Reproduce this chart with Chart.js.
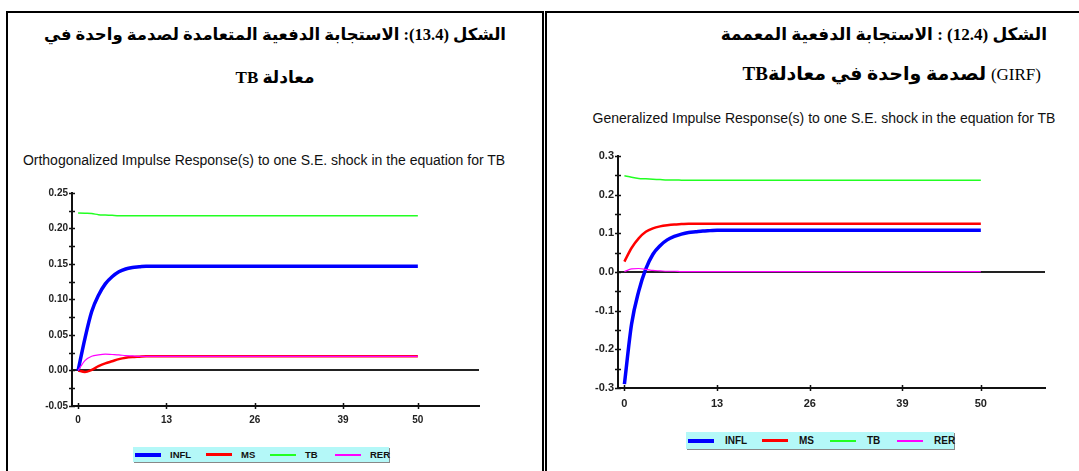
<!DOCTYPE html>
<html lang="ar">
<head>
<meta charset="utf-8">
<script src="https://cdn.jsdelivr.net/npm/chart.js@4.4.1/dist/chart.umd.min.js"></script>
<style>
body{margin:0;background:#fff;width:1079px;height:471px;overflow:hidden;position:relative;font-family:"Liberation Sans",Arial,sans-serif}
.cell{position:absolute;border:2px solid #000;box-sizing:border-box}
#cellL{left:6px;top:11px;width:538px;height:480px}
#cellR{left:545px;top:11px;width:560px;height:480px}
.ar{position:absolute;direction:rtl;font-family:"Liberation Serif","DejaVu Sans",serif;font-weight:bold;font-size:16.5px;white-space:nowrap;color:#000;line-height:20px}
.ttl{position:absolute;font-size:14px;color:#111;white-space:nowrap;text-align:center;line-height:16px}
.box{position:absolute}
.lg{position:absolute;background:#b4f8f8;box-shadow:1px 1px 0 #888;font-family:"Liberation Sans",Arial,sans-serif;font-weight:bold;font-size:9.5px;color:#111;box-sizing:border-box}
.lg .it{position:absolute;top:0;bottom:0;display:flex;align-items:center}
.lg .l{display:inline-block;width:26px}
.lg .t{position:absolute}
</style>
</head>
<body>
<div class="cell" id="cellL"></div>
<div class="cell" id="cellR"></div>

<div class="ar" style="left:8px;width:534px;top:25px;text-align:center">الشكل (13.4): الاستجابة الدفعية المتعامدة لصدمة واحدة في</div>
<div class="ar" style="left:8px;width:534px;top:68px;text-align:center;font-size:17px">معادلة TB</div>
<div class="ar" style="right:32px;top:25px;text-align:right;font-size:17px">الشكل (12.4) : الاستجابة الدفعية المعممة</div>
<div class="ar" style="right:38px;top:64px;text-align:right;font-size:19px"><span style="font-weight:normal;font-size:17px">(GIRF)</span> لصدمة واحدة في معادلةTB</div>

<div class="ttl" style="left:10px;width:508px;top:152px">Orthogonalized Impulse Response(s) to one S.E. shock in the equation for TB</div>
<div class="ttl" style="left:568px;width:512px;top:110px">Generalized Impulse Response(s) to one S.E. shock in the equation for TB</div>

<div class="box" style="left:20px;top:180px;width:480px;height:250px"><canvas id="cL"></canvas></div>
<div class="box" style="left:560px;top:140px;width:500px;height:280px"><canvas id="cR"></canvas></div>

<div class="lg" id="lgL" style="left:133px;top:447px;width:256px;height:15px"></div>
<div class="lg" id="lgR" style="left:686px;top:432px;width:268px;height:17px;font-size:10px"></div>

<script>
// horizons 0..50
var horizons = Array.from({length: 51}, function(_, i){ return i; });
var seriesNames = ['INFL', 'MS', 'TB', 'RER'];
var seriesColors = ['#0000ff', '#ff0000', '#22ff22', '#ff00ff'];
var lineWidths = [3.5, 2.5, 1.5, 1.2];
var xTickVals = [0, 13, 26, 39, 50];

// Orthogonalized (left)
var orthINFL = [0, 0.045, 0.083, 0.106, 0.122, 0.132, 0.139, 0.143, 0.145, 0.146,
  0.147, 0.147, 0.147, 0.147, 0.147, 0.147, 0.147, 0.147, 0.147, 0.147,
  0.147, 0.147, 0.147, 0.147, 0.147, 0.147, 0.147, 0.147, 0.147, 0.147,
  0.147, 0.147, 0.147, 0.147, 0.147, 0.147, 0.147, 0.147, 0.147, 0.147,
  0.147, 0.147, 0.147, 0.147, 0.147, 0.147, 0.147, 0.147, 0.147, 0.147, 0.147];
var orthMS = [0, -0.002, 0.001, 0.006, 0.010, 0.013, 0.016, 0.018, 0.019, 0.0195,
  0.020, 0.020, 0.020, 0.020, 0.020, 0.020, 0.020, 0.020, 0.020, 0.020,
  0.020, 0.020, 0.020, 0.020, 0.020, 0.020, 0.020, 0.020, 0.020, 0.020,
  0.020, 0.020, 0.020, 0.020, 0.020, 0.020, 0.020, 0.020, 0.020, 0.020,
  0.020, 0.020, 0.020, 0.020, 0.020, 0.020, 0.020, 0.020, 0.020, 0.020, 0.020];
var orthTB = [0.222, 0.2215, 0.221, 0.2195, 0.219, 0.2185, 0.218, 0.218, 0.218, 0.218,
  0.218, 0.218, 0.218, 0.218, 0.218, 0.218, 0.218, 0.218, 0.218, 0.218,
  0.218, 0.218, 0.218, 0.218, 0.218, 0.218, 0.218, 0.218, 0.218, 0.218,
  0.218, 0.218, 0.218, 0.218, 0.218, 0.218, 0.218, 0.218, 0.218, 0.218,
  0.218, 0.218, 0.218, 0.218, 0.218, 0.218, 0.218, 0.218, 0.218, 0.218, 0.218];
var orthRER = [0, 0.014, 0.020, 0.022, 0.023, 0.0225, 0.022, 0.021, 0.0205, 0.020,
  0.020, 0.020, 0.020, 0.020, 0.020, 0.020, 0.020, 0.020, 0.020, 0.020,
  0.020, 0.020, 0.020, 0.020, 0.020, 0.020, 0.020, 0.020, 0.020, 0.020,
  0.020, 0.020, 0.020, 0.020, 0.020, 0.020, 0.020, 0.020, 0.020, 0.020,
  0.020, 0.020, 0.020, 0.020, 0.020, 0.020, 0.020, 0.020, 0.020, 0.020, 0.020];
var orthYTicks = [-0.05, 0, 0.05, 0.10, 0.15, 0.20, 0.25];

// Generalized (right)
var genINFL = [-0.29, -0.135, -0.05, 0.008, 0.046, 0.068, 0.083, 0.092, 0.098, 0.102,
  0.104, 0.106, 0.107, 0.108, 0.108, 0.108, 0.108, 0.108, 0.108, 0.108,
  0.108, 0.108, 0.108, 0.108, 0.108, 0.108, 0.108, 0.108, 0.108, 0.108,
  0.108, 0.108, 0.108, 0.108, 0.108, 0.108, 0.108, 0.108, 0.108, 0.108,
  0.108, 0.108, 0.108, 0.108, 0.108, 0.108, 0.108, 0.108, 0.108, 0.108, 0.108];
var genMS = [0.027, 0.062, 0.087, 0.104, 0.113, 0.118, 0.121, 0.123, 0.124, 0.125,
  0.125, 0.125, 0.125, 0.125, 0.125, 0.125, 0.125, 0.125, 0.125, 0.125,
  0.125, 0.125, 0.125, 0.125, 0.125, 0.125, 0.125, 0.125, 0.125, 0.125,
  0.125, 0.125, 0.125, 0.125, 0.125, 0.125, 0.125, 0.125, 0.125, 0.125,
  0.125, 0.125, 0.125, 0.125, 0.125, 0.125, 0.125, 0.125, 0.125, 0.125, 0.125];
var genTB = [0.249, 0.245, 0.242, 0.241, 0.240, 0.239, 0.238, 0.238, 0.2375, 0.237,
  0.237, 0.237, 0.237, 0.237, 0.237, 0.237, 0.237, 0.237, 0.237, 0.237,
  0.237, 0.237, 0.237, 0.237, 0.237, 0.237, 0.237, 0.237, 0.237, 0.237,
  0.237, 0.237, 0.237, 0.237, 0.237, 0.237, 0.237, 0.237, 0.237, 0.237,
  0.237, 0.237, 0.237, 0.237, 0.237, 0.237, 0.237, 0.237, 0.237, 0.237, 0.237];
var genRER = [0.001, 0.008, 0.009, 0.007, 0.004, 0.003, 0.002, 0.002, 0.001, 0.001,
  0.001, 0.001, 0.001, 0.001, 0.001, 0.001, 0.001, 0.001, 0.001, 0.001,
  0.001, 0.001, 0.001, 0.001, 0.001, 0.001, 0.001, 0.001, 0.001, 0.001,
  0.001, 0.001, 0.001, 0.001, 0.001, 0.001, 0.001, 0.001, 0.001, 0.001,
  0.001, 0.001, 0.001, 0.001, 0.001, 0.001, 0.001, 0.001, 0.001, 0.001, 0.001];
var genYTicks = [-0.3, -0.2, -0.1, 0, 0.1, 0.2, 0.3];

var tickFont = '"Liberation Sans", Arial, sans-serif';

// little cross shaped tick marks on both axes
var crossTicks = {
  id: 'crossTicks',
  afterDatasetsDraw: function(chart) {
    var ctx = chart.ctx, xs = chart.scales.x, ys = chart.scales.y, a = chart.chartArea;
    var yt = chart.options.plugins.crossTicks.yTicks;
    ctx.save();
    ctx.strokeStyle = '#111';
    ctx.lineWidth = 1.5;
    ctx.beginPath();
    for (var i = 0; i < yt.length; i++) {
      var vals = [yt[i]];
      if (i < yt.length - 1) vals.push((yt[i] + yt[i + 1]) / 2);
      vals.forEach(function(v){
        var py = Math.round(ys.getPixelForValue(v)) + 0.5;
        ctx.moveTo(a.left - 3, py); ctx.lineTo(a.left + 3, py);
      });
    }
    xTickVals.forEach(function(v){
      var px = Math.round(xs.getPixelForValue(v)) + 0.5;
      ctx.moveTo(px, a.bottom - 3); ctx.lineTo(px, a.bottom + 3);
    });
    ctx.stroke();
    ctx.restore();
  }
};

function makeChart(id, series, yMin, yMax, yTicks, dec, pad, yW, xH, fs, xPad) {
  var datasets = series.map(function(s, k){
    return {
      label: seriesNames[k],
      data: s.map(function(v, i){ return {x: horizons[i], y: v}; }),
      borderColor: seriesColors[k],
      borderWidth: lineWidths[k],
      pointRadius: 0,
      cubicInterpolationMode: 'monotone',
      fill: false,
      order: [1, 2, 3, 0][k]
    };
  });
  return new Chart(document.getElementById(id), {
    type: 'line',
    data: {datasets: datasets},
    plugins: [crossTicks],
    options: {
      responsive: true,
      maintainAspectRatio: false,
      animation: false,
      layout: {padding: pad},
      plugins: {legend: {display: false}, tooltip: {enabled: false}, crossTicks: {yTicks: yTicks}},
      scales: {
        x: {
          type: 'linear', min: -0.9, max: 59,
          afterBuildTicks: function(sc){ sc.ticks = xTickVals.map(function(v){ return {value: v}; }); },
          afterFit: function(sc){ sc.height = xH; },
          grid: {display: false, drawTicks: false},
          border: {color: '#111', width: 2},
          ticks: {color: '#222', padding: xPad, maxRotation: 0, autoSkip: false,
            font: {family: tickFont, size: fs, weight: 'bold'},
            callback: function(v){ return String(v); }}
        },
        y: {
          min: yMin, max: yMax,
          afterBuildTicks: function(sc){ sc.ticks = yTicks.map(function(v){ return {value: v}; }); },
          afterFit: function(sc){ sc.width = yW; },
          grid: {drawTicks: false, lineWidth: 2,
            color: function(c){ return c.tick && Math.abs(c.tick.value) < 1e-9 ? '#222' : 'rgba(0,0,0,0)'; }},
          border: {color: '#111', width: 2},
          ticks: {color: '#222', padding: 4, autoSkip: false,
            font: {family: tickFont, size: fs, weight: 'bold'},
            callback: function(v){ return (Math.abs(v) < 1e-9 ? 0 : v).toFixed(dec); }}
        }
      }
    }
  });
}

makeChart('cL', [orthINFL, orthMS, orthTB, orthRER], -0.05, 0.25, orthYTicks, 2,
  {top: 13, right: 21, left: 0, bottom: 0}, 52, 24, 10, 8);
makeChart('cR', [genINFL, genMS, genTB, genRER], -0.3, 0.3, genYTicks, 1,
  {top: 16, right: 15, left: 0, bottom: 0}, 58, 32, 11, 9);

// legends: item start offsets inside the box and text offset after the line
var legendLayouts = {
  lgL: {starts: [2, 73, 137, 202], textOff: 35},
  lgR: {starts: [2, 76, 144, 211], textOff: 37}
};
['lgL', 'lgR'].forEach(function(id){
  var el = document.getElementById(id), lay = legendLayouts[id];
  seriesNames.forEach(function(n, k){
    var it = document.createElement('div');
    it.className = 'it';
    it.style.left = lay.starts[k] + 'px';
    var l = document.createElement('span');
    l.className = 'l';
    l.style.height = Math.max(2, Math.round(lineWidths[k])) + 'px';
    l.style.background = seriesColors[k];
    var t = document.createElement('span');
    t.className = 't';
    t.style.left = lay.textOff + 'px';
    t.textContent = n;
    it.appendChild(l); it.appendChild(t);
    el.appendChild(it);
  });
});
</script>
</body>
</html>
